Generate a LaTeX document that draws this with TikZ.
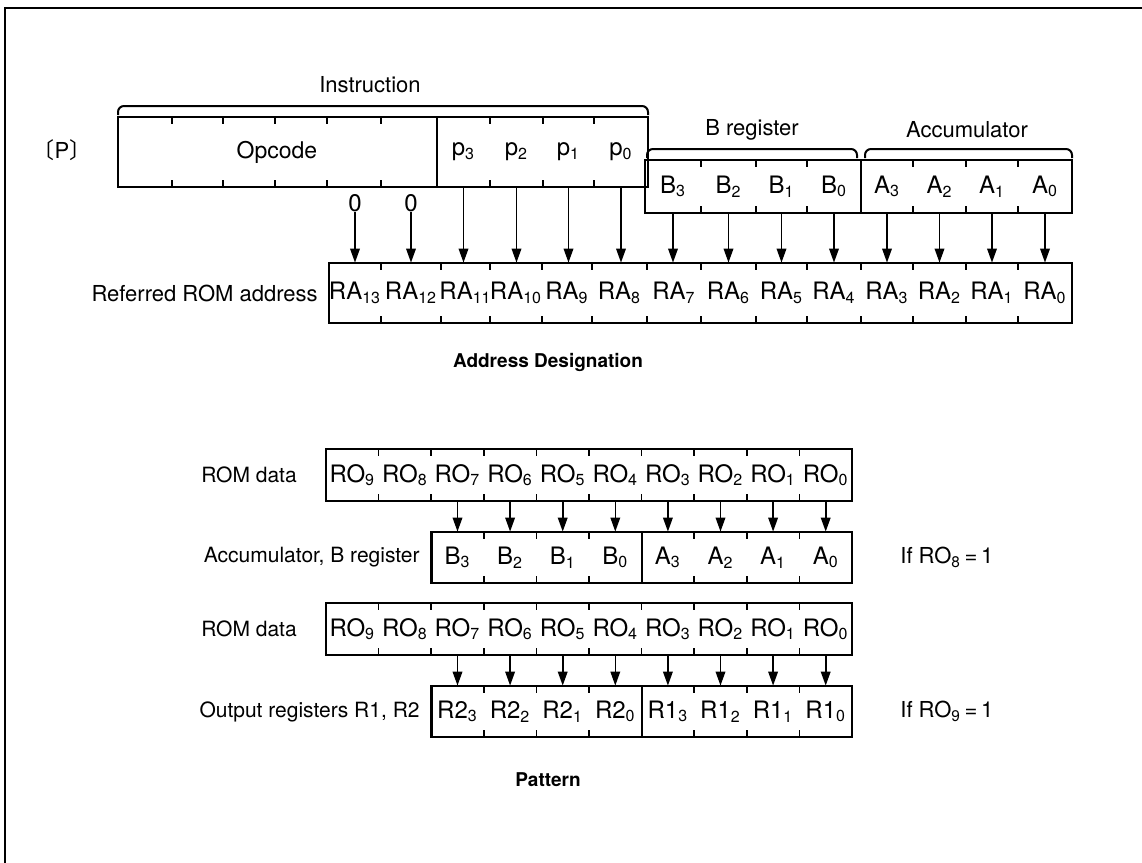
\documentclass[tikz,border=0pt]{standalone}
\usepackage{fontspec}
\setmainfont{TeX Gyre Heros}
\newfontfamily\cjk{Noto Sans CJK JP}
\usetikzlibrary{arrows.meta}
\tikzset{
  frame/.style={line width=1pt},
  box/.style={line width=1.3pt},
  divider/.style={line width=1pt},
  tickline/.style={line width=0.75pt},
  conn/.style={line width=0.8pt,-{Triangle[length=7pt,width=4.8pt]}},
  cell/.style={inner sep=0pt,font=\fontsize{12}{14}\selectfont},
  lbl/.style={inner sep=0pt,font=\fontsize{10.5}{12}\selectfont},
  ttl/.style={inner sep=0pt,font=\bfseries\fontsize{9.5}{11}\selectfont},
  brace/.style={line width=1pt,rounded corners=3pt}
}
\newcommand\regticks[3]{%
  \foreach \tx in {#3} {\draw[tickline] (\tx,#1) -- ++(0,7); \draw[tickline] (\tx,#2) -- ++(0,-7);}}
\begin{document}
\begin{tikzpicture}[x=0.5pt,y=-0.5pt]
\useasboundingbox (0,0) rectangle (1142,863);
\draw[frame] (5,863) -- (5,8) -- (1142,8);

% ---------- Instruction ----------
\node[lbl,font=\fontsize{11}{13}\selectfont] (instrlbl) at (370,85) {Instruction};
\draw[brace] (118,115) -- (118,106) -- (648,106) -- (648,115);
\node[lbl,font=\fontsize{11}{13}\selectfont] (plbl) at (62,150) {{\cjk 〔}P{\cjk 〕}};
\draw[box] (118,117) rectangle (648,187);
\draw[divider] (437,117) -- (437,187);
\regticks{117}{187}{172,223,275,327,381,490,543,594}
\node[cell,minimum height=35pt,font=\fontsize{11.5}{13}\selectfont] (opcode) at (277,152) {Opcode};
\foreach \n/\x in {3/463.5,2/516.5,1/568.5,0/621}
  \node[cell,minimum height=35pt] (p\n) at (\x,152) {p\textsubscript{\n}};

% ---------- B register / Accumulator ----------
\node[lbl,font=\fontsize{11}{13}\selectfont] (breglbl) at (752,130) {B register};
\node[lbl,font=\fontsize{11}{13}\selectfont] (acclbl) at (967,130) {Accumulator};
\draw[brace] (647,158) -- (647,149) -- (857,149) -- (857,158);
\draw[brace] (865,158) -- (865,149) -- (1072,149) -- (1072,158);
\draw[box] (645,160) rectangle (1072,213);
\draw[divider] (861,160) -- (861,213);
\regticks{160}{213}{701,756,807,913,966,1018}
\foreach \n/\x in {3/673,2/728.5,1/781.5,0/834}
  \node[cell,minimum height=26.5pt] (b\n) at (\x,186.5) {B\textsubscript{\n}};
\foreach \n/\x in {3/887,2/939.5,1/992,0/1045}
  \node[cell,minimum height=26.5pt] (a\n) at (\x,186.5) {A\textsubscript{\n}};

% ---------- Referred ROM address ----------
\node[lbl,anchor=east,font=\fontsize{11}{13}\selectfont] (ralbl) at (318,293) {Referred ROM address};
\draw[box] (329,263) rectangle (1072,323);
\regticks{263}{323}{381,441,490,542,592,647,701,756,807,861,913,966,1018}
\foreach \n/\x in {13/355,12/411,11/465.5,10/516,9/567,8/619.5,7/674,6/728.5,5/781.5,4/834,3/887,2/939.5,1/992,0/1045}
  \node[cell,minimum height=30pt] (ra\n) at (\x,293) {RA\textsubscript{\n}};

\node[cell] (z13) at (355,203) {0};
\node[cell] (z12) at (411,203) {0};
\draw[conn] (z13) -- (z13 |- ra13.north);
\draw[conn] (z12) -- (z12 |- ra12.north);
\foreach \s/\t in {3/11,2/10,1/9,0/8}
  \draw[conn] (p\s.south) -- (p\s.south |- ra\t.north);
\foreach \s/\t in {3/7,2/6,1/5,0/4}
  \draw[conn] (b\s.south) -- (b\s.south |- ra\t.north);
\foreach \s/\t in {3/3,2/2,1/1,0/0}
  \draw[conn] (a\s.south) -- (a\s.south |- ra\t.north);

\node[ttl] (adtitle) at (548,362) {Address Designation};

% ---------- Pattern: first pair ----------
\node[lbl] (romlbla) at (249,475) {ROM data};
\draw[box] (326,449) rectangle (852,501);
\regticks{449}{501}{378.6,431.2,483.8,536.4,589,641.6,694.2,746.8,799.4}
\foreach \n/\x in {9/352.3,8/404.9,7/457.5,6/510.1,5/562.7,4/615.3,3/667.9,2/720.5,1/773.1,0/825.7}
  \node[cell,minimum height=26pt] (da\n) at (\x,475) {RO\textsubscript{\n}};

\node[lbl,anchor=east] (acclblb) at (420,557.5) {Accumulator, B register};
\draw[box] (431.2,532) rectangle (852,583);
\draw[divider] (641.6,532) -- (641.6,583);
\regticks{532}{583}{483.8,536.4,589,694.2,746.8,799.4}
\foreach \n/\x in {3/457.5,2/510.1,1/562.7,0/615.3}
  \node[cell,minimum height=25.5pt] (bb\n) at (\x,557.5) {B\textsubscript{\n}};
\foreach \n/\x in {3/667.9,2/720.5,1/773.1,0/825.7}
  \node[cell,minimum height=25.5pt] (aa\n) at (\x,557.5) {A\textsubscript{\n}};
\node[lbl,anchor=west,font=\fontsize{11}{13}\selectfont] (cond8) at (900,557.5) {If RO\textsubscript{8}\,=\,1};
\foreach \s/\t in {7/3,6/2,5/1,4/0}
  \draw[conn] (da\s.south) -- (bb\t.north);
\foreach \s/\t in {3/3,2/2,1/1,0/0}
  \draw[conn] (da\s.south) -- (aa\t.north);

% ---------- Pattern: second pair ----------
\node[lbl] (romlblb) at (249,629) {ROM data};
\draw[box] (326,603) rectangle (852,655);
\regticks{603}{655}{378.6,431.2,483.8,536.4,589,641.6,694.2,746.8,799.4}
\foreach \n/\x in {9/352.3,8/404.9,7/457.5,6/510.1,5/562.7,4/615.3,3/667.9,2/720.5,1/773.1,0/825.7}
  \node[cell,minimum height=26pt] (db\n) at (\x,629) {RO\textsubscript{\n}};

\node[lbl,anchor=east] (outlbl) at (420,711.5) {Output registers R1, R2};
\draw[box] (431.2,686) rectangle (852,737);
\draw[divider] (641.6,686) -- (641.6,737);
\regticks{686}{737}{483.8,536.4,589,694.2,746.8,799.4}
\foreach \n/\x in {3/457.5,2/510.1,1/562.7,0/615.3}
  \node[cell,minimum height=25.5pt] (qb\n) at (\x,711.5) {R2\textsubscript{\n}};
\foreach \n/\x in {3/667.9,2/720.5,1/773.1,0/825.7}
  \node[cell,minimum height=25.5pt] (qa\n) at (\x,711.5) {R1\textsubscript{\n}};
\node[lbl,anchor=west,font=\fontsize{11}{13}\selectfont] (cond9) at (900,711.5) {If RO\textsubscript{9}\,=\,1};
\foreach \s/\t in {7/3,6/2,5/1,4/0}
  \draw[conn] (db\s.south) -- (qb\t.north);
\foreach \s/\t in {3/3,2/2,1/1,0/0}
  \draw[conn] (db\s.south) -- (qa\t.north);

\node[ttl] (pattitle) at (548,780) {Pattern};
\end{tikzpicture}
\end{document}
